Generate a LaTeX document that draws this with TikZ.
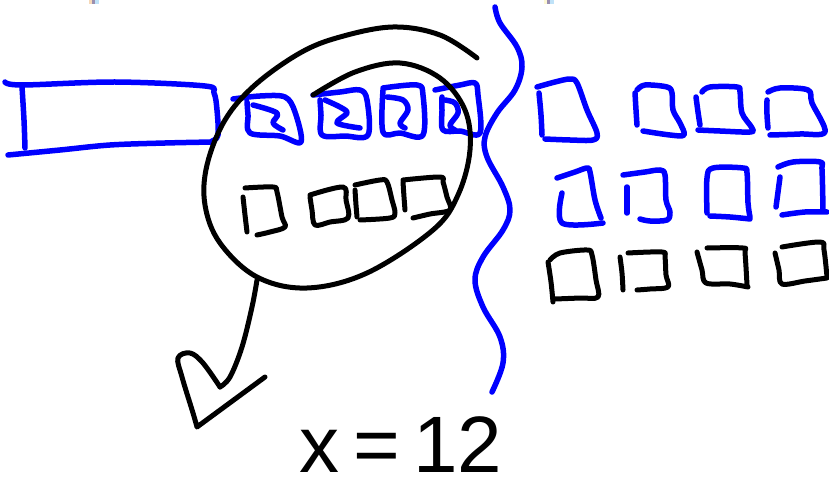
\documentclass[tikz,border=0pt]{standalone}
\usepackage{fontspec}
\newfontfamily\handfont{Liberation Sans}
\definecolor{pixpeach}{HTML}{F6D9B8}
\definecolor{pixgray}{HTML}{9A8FB0}
\definecolor{pixblue}{HTML}{BFE2F8}
\begin{document}
\begin{tikzpicture}[x=1pt,y=-1pt,
  blueink/.style={draw=blue, line width=5.5pt, line cap=round, line join=round},
  blackink/.style={draw=black, line width=5pt, line cap=round, line join=round},
  sk/.style={smooth, tension=0.55}]
\useasboundingbox (0,0) rectangle (829,489);
% tiny pixel marks at top
\fill[pixpeach] (89,0) rectangle (92,4); \fill[pixgray] (92,0) rectangle (95,4); \fill[pixblue] (95,0) rectangle (99,4);
\fill[pixpeach!60!yellow!30] (544,0) rectangle (547,4); \fill[pixgray] (547,0) rectangle (550,4); \fill[pixblue] (550,0) rectangle (554,4);

% long blue bar
\draw[blueink] plot[sk] coordinates {(5,82) (22,85) (115,82) (205,86) (214,93) (217,110) (218,135) (212,141)};
\draw[blueink] plot[sk] coordinates {(8,155) (60,150) (110,145) (165,143) (213,142)};
\draw[blueink] plot[sk] coordinates {(22,87) (24,120) (25,148)};

% blue squares in ellipse
\draw[blueink] plot[sk] coordinates {(233,99) (260,96) (285,97) (295,112) (301,142) (280,136) (250,133) (248,115) (247,102)};
\draw[blueink] plot[sk] coordinates {(253,105) (277,113) (273,123) (283,130)};
\draw[blueink] plot[sk] coordinates {(313,95) (340,92) (360,90) (367,100) (368,135) (345,136) (322,135) (321,115) (320,100)};
\draw[blueink] plot[sk] coordinates {(325,100) (340,107) (347,113) (337,123) (360,128)};
\draw[blueink] plot[sk] coordinates {(383,88) (417,85) (423,95) (423,135) (400,133) (383,132) (383,90)};
\draw[blueink] plot[sk] coordinates {(387,97) (403,100) (408,110) (400,123) (405,128)};
\draw[blueink] plot[sk] coordinates {(435,90) (460,85) (475,83) (478,95) (480,133) (460,131) (443,130) (442,110) (442,97)};
\draw[blueink] plot[sk] coordinates {(445,100) (455,103) (458,113) (450,125) (455,130)};

% black squares in ellipse
\draw[blackink] plot[sk] coordinates {(243,197) (245,215) (247,232)};
\draw[blackink] plot[sk] coordinates {(245,188) (273,187) (277,192) (282,217) (285,227) (270,232) (257,235)};
\draw[blackink] plot[sk] coordinates {(310,195) (343,187) (346,200) (348,218) (330,222) (315,225) (312,210) (310,197)};
\draw[blackink] plot[sk] coordinates {(355,190) (356,205) (357,217)};
\draw[blackink] plot[sk] coordinates {(355,185) (380,180) (387,182) (392,200) (395,213) (390,218) (360,220)};
\draw[blackink] plot[sk] coordinates {(403,182) (404,197) (405,210)};
\draw[blackink] plot[sk] coordinates {(403,180) (440,177) (443,182) (447,197) (450,210) (430,214) (413,218)};

% spiral ellipse
\draw[blackink] plot[smooth, tension=0.6] coordinates {(477,58) (440,35) (393,27) (340,37) (300,53) (255,85) (225,120) (207,165) (205,205) (220,243) (257,277) (307,288) (367,273) (433,230) (458,195) (470,150) (465,110) (440,78) (400,63) (355,72) (313,95)};

% arrow
\draw[blackink] plot[smooth, tension=0.6] coordinates {(257,280) (252,307) (242,347) (230,377) (220,387)};
\draw[blackink] plot[smooth, tension=0.6] coordinates {(220,387) (203,363) (190,353) (178,358) (182,377) (193,413) (197,427)} -- (265,377);

% wavy divider
\draw[blueink] plot[smooth, tension=0.6] coordinates {(495,7) (500,23) (517,47) (522,67) (515,90) (497,113) (485,137) (487,157) (503,187) (510,210) (503,230) (483,257) (475,280) (483,307) (500,337) (503,363) (492,392)};

% right side, row 1 (blue)
\draw[blueink] plot[sk] coordinates {(539,93) (541,115) (542,135)};
\draw[blueink] plot[sk] coordinates {(537,87) (555,82) (570,79) (577,83) (587,110) (597,133) (593,140) (570,140) (545,139)};
\draw[blueink] plot[sk] coordinates {(635,93) (636,110) (637,125)};
\draw[blueink] plot[sk] coordinates {(637,90) (645,85) (667,87) (672,93) (673,110) (680,123) (684,135) (670,135) (643,131)};
\draw[blueink] plot[sk] coordinates {(696,97) (698,112) (700,125)};
\draw[blueink] plot[sk] coordinates {(702,92) (710,87) (737,87) (740,92) (742,113) (752,128) (750,132) (720,131) (698,130)};
\draw[blueink] plot[sk] coordinates {(767,100) (767,115) (768,128)};
\draw[blueink] plot[sk] coordinates {(768,92) (780,88) (808,90) (812,103) (825,132) (800,134) (770,135)};

% row 2 (blue)
\draw[blueink] plot[sk] coordinates {(557,178) (575,172) (587,168) (590,172) (595,200) (601,218)};
\draw[blueink] plot[sk] coordinates {(562,193) (562,223) (603,223)};
\draw[blueink] plot[sk] coordinates {(627,187) (627,200) (627,213)};
\draw[blueink] plot[sk] coordinates {(623,175) (645,172) (660,170) (665,175) (666,200) (670,212) (667,220) (650,221) (640,219)};
\draw[blueink] plot[sk] coordinates {(707,213) (707,178) (713,168) (743,168) (747,173) (748,203) (750,217)};
\draw[blueink] plot[sk] coordinates {(710,216) (730,217) (750,219)};
\draw[blueink] plot[sk] coordinates {(778,167) (793,162) (820,162) (822,170) (823,210)};
\draw[blueink] plot[sk] coordinates {(782,215) (805,212) (827,212)};
\draw[blueink] plot[sk] coordinates {(780,177) (778,192) (776,207)};

% row 3 (black)
\draw[blackink] plot[sk] coordinates {(550,260) (560,253) (587,250) (592,255) (596,280) (598,297) (580,298) (555,299)};
\draw[blackink] plot[sk] coordinates {(548,262) (551,282) (553,302)};
\draw[blackink] plot[sk] coordinates {(620,257) (622,273) (623,290)};
\draw[blackink] plot[sk] coordinates {(628,253) (662,252) (665,257) (666,275) (668,287) (650,289) (637,290)};
\draw[blackink] plot[sk] coordinates {(697,252) (702,270) (706,283) (730,284) (748,287)};
\draw[blackink] plot[sk] coordinates {(707,248) (743,248) (745,253) (747,285)};
\draw[blackink] plot[sk] coordinates {(775,253) (779,270) (782,284) (805,281) (827,278)};
\draw[blackink] plot[sk] coordinates {(782,247) (820,242) (824,250) (827,277)};

% label
\node[font=\handfont\fontsize{80}{80}\selectfont, inner sep=0pt, anchor=base] (label) at (401,472) {x\,=\,12};
\end{tikzpicture}
\end{document}
